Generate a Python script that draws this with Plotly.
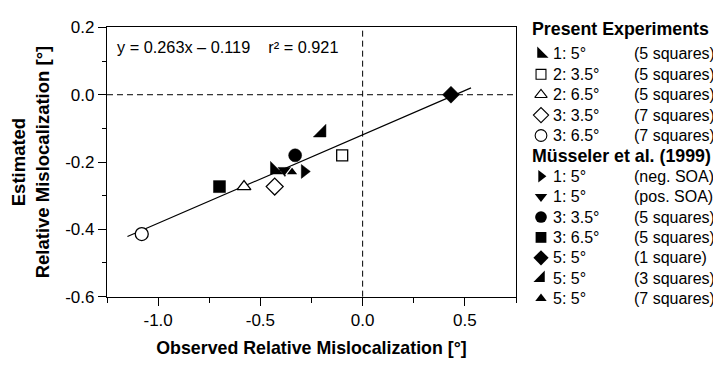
import plotly.graph_objects as go

# ---------------- data ----------------
PRESENT_LABELS = ["1: 5°", "2: 3.5°", "2: 6.5°", "3: 3.5°", "3: 6.5°"]
PRESENT_NOTES = ["(5 squares)", "(5 squares)", "(5 squares)", "(7 squares)", "(7 squares)"]
PRESENT_X = [-0.43, -0.10, -0.58, -0.43, -1.08]
PRESENT_Y = [-0.223, -0.180, -0.273, -0.273, -0.414]

MUSS_LABELS = ["1: 5°", "1: 5°", "3: 3.5°", "3: 6.5°", "5: 5°", "5: 5°", "5: 5°"]
MUSS_NOTES = ["(neg. SOA)", "(pos. SOA)", "(5 squares)", "(5 squares)",
              "(1 square)", "(3 squares)", "(7 squares)"]
MUSS_X = [-0.285, -0.38, -0.33, -0.70, 0.432, -0.20, -0.345]
MUSS_Y = [-0.228, -0.225, -0.180, -0.273, 0.000, -0.113, -0.230]

FIT_SLOPE = 0.263
FIT_INTERCEPT = -0.119
FIT_R2 = 0.921
FIT_X_RANGE = [-1.15, 0.53]

X_TICKS = [-1.0, -0.5, 0.0, 0.5]
X_TICK_TEXT = ["-1.0", "-0.5", "0.0", "0.5"]
Y_TICKS = [-0.6, -0.4, -0.2, 0.0, 0.2]
Y_TICK_TEXT = ["-0.6", "-0.4", "-0.2", "0.0", "0.2"]

GROUP_TITLES = ["Present Experiments", "Müsseler et al. (1999)"]

# ---------------- styles ----------------
FONT = "Liberation Sans"
PRESENT_STYLE = [  # (symbol, fill, size)
    ("triangle-sw", "black", 14),
    ("square", "white", 11),
    ("triangle-up", "white", 12),
    ("diamond", "white", 13),
    ("circle", "white", 13),
]
MUSS_STYLE = [
    ("triangle-right", "black", 12),
    ("triangle-down", "black", 12),
    ("circle", "black", 13),
    ("square", "black", 12),
    ("diamond", "black", 13),
    ("triangle-se", "black", 14),
    ("triangle-up", "black", 11),
]

# page geometry (the html body adds an 8px margin)
BODY = 8
SCREEN_W, SCREEN_H = 721, 373
W, H = SCREEN_W - BODY, SCREEN_H - BODY

def fx(px):
    return (px - BODY) / W

def fy(py):
    return 1 - (py - BODY) / H

PLOT_L, PLOT_R, PLOT_T, PLOT_B = 107, 516, 19, 303

# legend geometry (screen px)
HEAD_X = 530
MARK_X = 541
LABEL_X = 551
NOTE_X = 632
HEAD_Y = 21
ROW1_Y = 47
ROW_PITCH = 21.5

fig = go.Figure()

# regression line
fig.add_trace(go.Scatter(
    x=FIT_X_RANGE,
    y=[FIT_SLOPE * v + FIT_INTERCEPT for v in FIT_X_RANGE],
    mode="lines", line=dict(color="black", width=1.2),
    hoverinfo="skip", xaxis="x", yaxis="y"))

def add_points(xs, ys, styles, labels, notes):
    for xv, yv, (sym, fill, size), lab, note in zip(xs, ys, styles, labels, notes):
        if fill == "white":
            line = dict(color="black", width=1.3)
        elif sym == "triangle-up":
            line = dict(color="white", width=1.2)
        else:
            line = dict(color="black", width=0.5)
        fig.add_trace(go.Scatter(
            x=[xv], y=[yv], mode="markers", name=f"{lab} {note}",
            marker=dict(symbol=sym, size=size, color=fill, line=line),
            xaxis="x", yaxis="y", cliponaxis=False))

add_points(PRESENT_X, PRESENT_Y, PRESENT_STYLE, PRESENT_LABELS, PRESENT_NOTES)
add_points(MUSS_X, MUSS_Y, MUSS_STYLE, MUSS_LABELS, MUSS_NOTES)

# ------------- legend drawn on an auxiliary screen-space axis -------------
annotations = []
row = 0
for gi, (title, labels, notes, styles) in enumerate([
        (GROUP_TITLES[0], PRESENT_LABELS, PRESENT_NOTES, PRESENT_STYLE),
        (GROUP_TITLES[1], MUSS_LABELS, MUSS_NOTES, MUSS_STYLE)]):
    ty = HEAD_Y if row == 0 else ROW1_Y + ROW_PITCH * (row - 1)
    annotations.append(dict(xref="x2", yref="y2", x=HEAD_X, y=ty, text=f"<b>{title}</b>",
                            showarrow=False, xanchor="left", yanchor="middle",
                            font=dict(family=FONT, size=17.8, color="black")))
    row += 1
    for lab, note, (sym, fill, size) in zip(labels, notes, styles):
        ry = ROW1_Y + ROW_PITCH * (row - 1)
        fig.add_trace(go.Scatter(
            x=[MARK_X], y=[ry], mode="markers",
            marker=dict(symbol=sym, size=size * 0.9, color=fill,
                        line=dict(color="black", width=1.1 if fill == "white" else 0)),
            xaxis="x2", yaxis="y2", cliponaxis=False, hoverinfo="skip"))
        annotations.append(dict(xref="x2", yref="y2", x=LABEL_X, y=ry, text=lab,
                                showarrow=False, xanchor="left", yanchor="middle",
                                font=dict(family=FONT, size=16, color="black")))
        annotations.append(dict(xref="x2", yref="y2", x=NOTE_X, y=ry, text=note,
                                showarrow=False, xanchor="left", yanchor="middle",
                                font=dict(family=FONT, size=16, color="black")))
        row += 1

# equation annotation
annotations.append(dict(
    xref="x2", yref="y2", x=115, y=40,
    text=f"y = {FIT_SLOPE:.3f}x – {abs(FIT_INTERCEPT):.3f}&nbsp;&nbsp;&nbsp;&nbsp;r² = {FIT_R2:.3f}",
    showarrow=False, xanchor="left", yanchor="middle",
    font=dict(family=FONT, size=16.3, color="black")))

shapes = [
    dict(type="line", xref="x", yref="y domain", x0=0, x1=0, y0=0, y1=1,
         line=dict(color="black", width=1, dash="6px,4px")),
    dict(type="line", xref="x domain", yref="y", x0=0, x1=1, y0=0, y1=0,
         line=dict(color="black", width=1, dash="6px,4px")),
]

fig.update_layout(
    width=W, height=H,
    margin=dict(l=0, r=0, t=0, b=0),
    paper_bgcolor="white", plot_bgcolor="rgba(0,0,0,0)",
    showlegend=False,
    font=dict(family=FONT, color="black"),
    annotations=annotations, shapes=shapes,
    xaxis=dict(domain=[fx(PLOT_L), fx(PLOT_R)], range=[-1.25, 0.75],
               tickvals=X_TICKS, ticktext=X_TICK_TEXT, anchor="y",
               ticks="outside", ticklen=8, tickwidth=1.2, tickcolor="black",
               minor=dict(ticks="outside", dtick=0.25, tick0=0, ticklen=5, tickwidth=1, tickcolor="black"),
               showgrid=False, zeroline=False, showline=True, mirror=True,
               linecolor="black", linewidth=1.2,
               tickfont=dict(family=FONT, size=17),
               title=dict(text="<b>Observed Relative Mislocalization [°]</b>",
                          font=dict(family=FONT, size=17.8), standoff=12)),
    yaxis=dict(domain=[fy(PLOT_B), fy(PLOT_T)], range=[-0.6, 0.2],
               tickvals=Y_TICKS, ticktext=Y_TICK_TEXT, anchor="x",
               ticks="outside", ticklen=8, tickwidth=1.2, tickcolor="black",
               minor=dict(ticks="outside", dtick=0.1, tick0=0, ticklen=4, tickwidth=1, tickcolor="black"),
               showgrid=False, zeroline=False, showline=True, mirror=True,
               linecolor="black", linewidth=1.2,
               tickfont=dict(family=FONT, size=17),
               title=dict(text="<b>Estimated<br>Relative Mislocalization [°]</b>",
                          font=dict(family=FONT, size=18.5), standoff=10)),
    xaxis2=dict(domain=[0, 1], range=[BODY, SCREEN_W], visible=False, anchor="y2"),
    yaxis2=dict(domain=[0, 1], range=[SCREEN_H, BODY], visible=False, anchor="x2"),
)

fig.write_html("out.html")
